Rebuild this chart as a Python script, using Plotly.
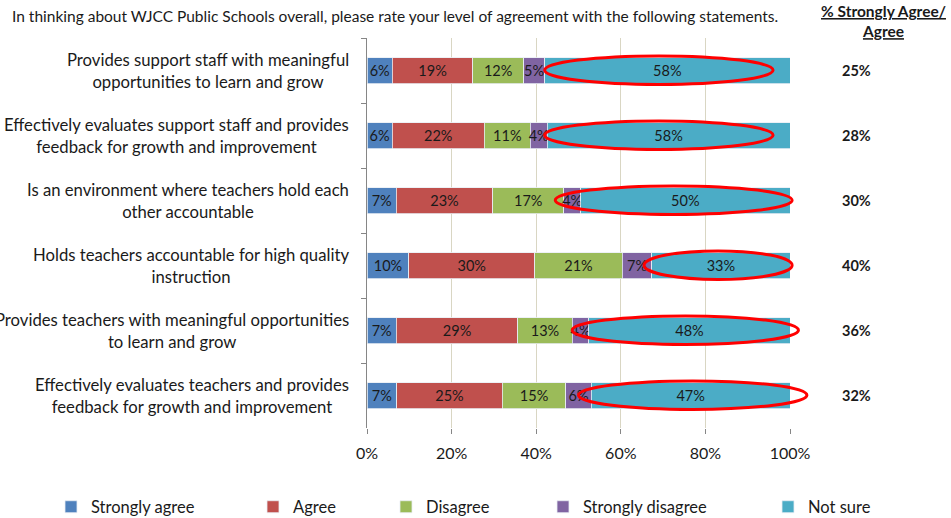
import plotly.graph_objects as go

categories = [
    "Provides support staff with meaningful<br>opportunities to learn and grow",
    "Effectively evaluates support staff and provides<br>feedback for growth and improvement",
    "Is an environment where teachers hold each<br>other accountable",
    "Holds teachers accountable for high quality<br>instruction",
    "Provides teachers with meaningful opportunities<br>to learn and grow",
    "Effectively evaluates teachers and provides<br>feedback for growth and improvement",
]
series_names = ["Strongly agree", "Agree", "Disagree", "Strongly disagree", "Not sure"]
strongly_agree = [6, 6, 7, 10, 7, 7]
agree = [19, 22, 23, 30, 29, 25]
disagree = [12, 11, 17, 21, 13, 15]
strongly_disagree = [5, 4, 4, 7, 4, 6]
not_sure = [58, 58, 50, 33, 48, 47]
pct_agree = ["25%", "28%", "30%", "40%", "36%", "32%"]
x_ticks = [0, 20, 40, 60, 80, 100]
x_tick_labels = ["0%", "20%", "40%", "60%", "80%", "100%"]

# highlighted "Not sure" ranges (percent of axis)
ellipse_x0 = [42, 42, 44.5, 65.5, 48.5, 50]
ellipse_x1 = [96, 96, 100.5, 100.5, 102, 104]

colors = ["#4F81BD", "#C0504D", "#9BBB59", "#8064A2", "#4BACC6"]
FONT = "Lato, 'Open Sans', sans-serif"
W, H = 951, 518
L, R, T, B = 367, 161, 38, 90
PW, PH = W - L - R, H - T - B

all_series = [strongly_agree, agree, disagree, strongly_disagree, not_sure]
row_sums = [sum(s[i] for s in all_series) for i in range(len(categories))]

fig = go.Figure()
legend_x_px = [51, 253, 386, 543, 768]
for k, (name, vals) in enumerate(zip(series_names, all_series)):
    lg = "legend" if k == 0 else f"legend{k+1}"
    fig.add_trace(go.Bar(
        y=categories,
        x=[v * 100.0 / row_sums[i] for i, v in enumerate(vals)],
        orientation="h",
        name=name,
        showlegend=True,
        marker=dict(color=colors[k], line=dict(color="#E8EEF4", width=0.8)),
        text=[f"{v}%" for v in vals],
        textposition="inside",
        insidetextanchor="middle",
        textangle=0,
        textfont=dict(family=FONT, size=14.5, color="#1a1a1a"),
        hoverinfo="skip",
        legend=lg,
    ))

layout_legends = {}
for k in range(5):
    key = "legend" if k == 0 else f"legend{k+1}"
    layout_legends[key] = dict(
        xref="container", yref="container",
        x=legend_x_px[k] / W, y=1 - 507 / H,
        xanchor="left", yanchor="middle",
        orientation="h",
        itemwidth=30,
        font=dict(family=FONT, size=16.5, color="#1a1a1a"),
        bgcolor="rgba(0,0,0,0)",
    )

shapes = []
n = len(categories)
for i in range(n):
    yc = 1 - (i + 0.5) / n
    shapes.append(dict(
        type="circle", xref="paper", yref="paper",
        x0=ellipse_x0[i] / 100.0, x1=ellipse_x1[i] / 100.0,
        y0=yc - 0.215 / n, y1=yc + 0.225 / n,
        line=dict(color="#FF0000", width=3),
        fillcolor="rgba(0,0,0,0)",
    ))

annotations = []
for i in range(n):
    # category labels, lines centred like the original
    annotations.append(dict(
        xref="paper", yref="y", x=(351 - L) / PW, y=categories[i],
        text=categories[i], showarrow=False,
        font=dict(family=FONT, size=16.7, color="#1a1a1a"),
        xanchor="right", yanchor="middle", align="center",
    ))
    annotations.append(dict(
        xref="paper", yref="y", x=(856 - L) / PW, y=categories[i],
        text=f"<b>{pct_agree[i]}</b>", showarrow=False,
        font=dict(family=FONT, size=14.5, color="#1a1a1a"),
        xanchor="center", yanchor="middle",
    ))
annotations.append(dict(
    xref="paper", yref="paper", x=(883 - L) / PW, y=1 + (T - 0) / PH,
    text="<b><u>% Strongly Agree/</u></b><br><b><u>Agree</u></b>",
    showarrow=False, xanchor="center", yanchor="top", align="center",
    font=dict(family=FONT, size=15.5, color="#1a1a1a"),
))
annotations.append(dict(
    xref="paper", yref="paper", x=(10 - L) / PW, y=1 + (T - 16) / PH,
    text="In thinking about WJCC Public Schools overall, please rate your level of agreement with the following statements.",
    showarrow=False, xanchor="left", yanchor="middle",
    font=dict(family=FONT, size=15.5, color="#1a1a1a"),
))

fig.update_layout(
    width=W, height=H,
    margin=dict(l=L, r=R, t=T, b=B, autoexpand=False),
    barmode="stack",
    bargap=0.6,
    showlegend=True,
    plot_bgcolor="white",
    paper_bgcolor="white",
    uniformtext=dict(minsize=14.5, mode="show"),
    shapes=shapes,
    annotations=annotations,
    **layout_legends,
)
fig.update_xaxes(
    range=[0, 100], tickvals=x_ticks, ticktext=x_tick_labels,
    showgrid=True, gridcolor="#D9D6C3", gridwidth=1,
    zeroline=False, showline=False,
    ticks="outside", ticklen=5, tickcolor="#868686",
    ticklabelstandoff=6,
    tickfont=dict(family=FONT, size=16, color="#1a1a1a"),
    automargin=False,
    fixedrange=True,
)
fig.update_yaxes(
    categoryorder="array", categoryarray=categories,
    autorange="reversed",
    showline=True, linecolor="#868686", linewidth=1,
    ticks="outside", ticklen=5, tickcolor="#868686", tickson="boundaries",
    showticklabels=False,
    showgrid=False,
    automargin=False,
    fixedrange=True,
)

fig.write_html("out.html")
